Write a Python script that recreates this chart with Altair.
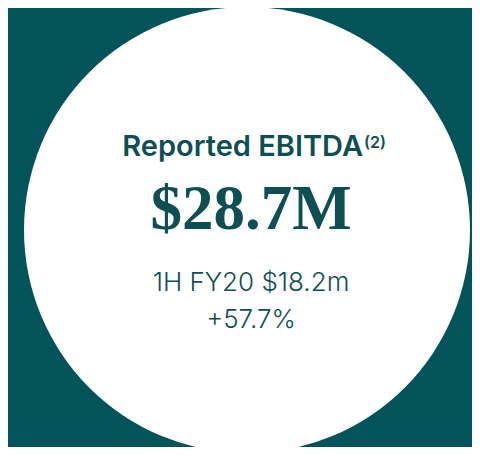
import altair as alt
import pandas as pd

# ---- data ----
metric_name = ["Reported EBITDA"]
footnote = ["(2)"]
current_value_m = [28.7]
prior_period = ["1H FY20"]
prior_value_m = [18.2]
growth_pct = [57.7]
circle_share = [100]

BG = "#03535a"
INK = "#0e4f54"

W, H = 464, 439
CX, CY = 239, 222

circle_df = pd.DataFrame({"share": circle_share})
title_df = pd.DataFrame({"t": metric_name})
foot_df = pd.DataFrame({"t": footnote})
value_df = pd.DataFrame({"t": [f"${v}M" for v in current_value_m]})
prior_df = pd.DataFrame({"t": [f"{p} ${v}m" for p, v in zip(prior_period, prior_value_m)]})
growth_df = pd.DataFrame({"t": [f"+{g}%" for g in growth_pct]})

circle = alt.Chart(circle_df).mark_arc(radius=223, color="white").encode(
    theta=alt.Theta("share:Q"),
    x=alt.value(CX), y=alt.value(CY),
)

title = alt.Chart(title_df).mark_text(
    font="Inter", fontWeight=600, fontSize=29, color=INK,
    align="right", baseline="alphabetic",
).encode(text="t:N", x=alt.value(355), y=alt.value(148))

foot = alt.Chart(foot_df).mark_text(
    font="Inter", fontWeight=600, fontSize=16, color=INK,
    align="left", baseline="alphabetic",
).encode(text="t:N", x=alt.value(356), y=alt.value(140))

value = alt.Chart(value_df).mark_text(
    font="Liberation Serif", fontWeight="bold", fontSize=63, color=INK,
    align="center", baseline="alphabetic",
).encode(text="t:N", x=alt.value(243), y=alt.value(221))

prior = alt.Chart(prior_df).mark_text(
    font="Inter", fontWeight=300, fontSize=26, color=INK,
    align="center", baseline="alphabetic",
).encode(text="t:N", x=alt.value(243), y=alt.value(283))

growth = alt.Chart(growth_df).mark_text(
    font="Inter", fontWeight=300, fontSize=26, color=INK,
    align="center", baseline="alphabetic",
).encode(text="t:N", x=alt.value(243), y=alt.value(320))

chart = alt.layer(circle, title, foot, value, prior, growth).properties(
    width=W, height=H, padding=0, background=BG,
    autosize=alt.AutoSizeParams(type="none"),
).configure_view(stroke=None)

chart.save("out.html", embed_options={"renderer": "svg", "actions": False})
